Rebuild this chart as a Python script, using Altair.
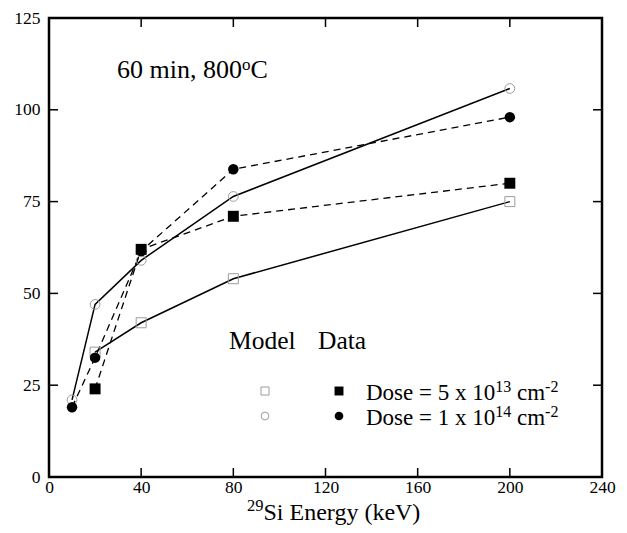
import altair as alt
import pandas as pd

# ---------------- data ----------------
model_sq_energy = [20, 40, 80, 200]
model_sq_value = [34, 42, 54, 75]
model_ci_energy = [10, 20, 40, 80, 200]
model_ci_value = [21, 47, 59, 76.4, 105.8]
data_sq_energy = [20, 40, 80, 200]
data_sq_value = [24, 62, 71, 80]
data_ci_energy = [10, 20, 40, 80, 200]
data_ci_value = [19, 32.5, 61.5, 83.8, 98]

x_ticks = [0, 40, 80, 120, 160, 200, 240]
y_ticks = [0, 25, 50, 75, 100, 125]

# ---------------- geometry ----------------
W, H = 553, 459
X_MAX, Y_MAX = 240, 125
PX_X = W / X_MAX
PX_Y = H / Y_MAX
FONT = "Liberation Serif"
PAD_LEFT, PAD_TOP = 41, 10
LEFT, TOP = 8 + PAD_LEFT, 8 + PAD_TOP  # page position of the plot area


def frame(xs, ys, series):
    return pd.DataFrame({"x": xs, "y": ys, "series": series})


lines_df = pd.concat([
    frame(model_sq_energy, model_sq_value, "model_sq"),
    frame(model_ci_energy, model_ci_value, "model_ci"),
    frame(data_sq_energy, data_sq_value, "data_sq"),
    frame(data_ci_energy, data_ci_value, "data_ci"),
], ignore_index=True)

# Times New Roman (Liberation Serif) advance widths, per 1000 em
TNR = {" ": 250, "(": 333, ")": 333, ",": 250, "-": 333, "=": 564, "C": 667,
       "D": 722, "E": 611, "S": 556, "V": 722, "M": 889, "a": 444, "c": 444,
       "d": 500, "e": 444, "g": 500, "i": 278, "k": 500, "l": 278, "m": 778,
       "n": 500, "o": 500, "r": 333, "s": 389, "t": 278, "x": 500, "y": 500}


def tw(s, size):
    return sum(TNR.get(c, 500) for c in s) / 1000.0 * size


def run(pieces, page_x, page_base):
    rows = []
    x = page_x - LEFT
    base = page_base - TOP
    for t, size, raise_px in pieces:
        lead = len(t) - len(t.lstrip())
        xr = x + tw(t[:lead], size)
        rows.append({"x": xr / PX_X, "y": (H - (base - raise_px)) / PX_Y,
                     "text": t.strip(), "size": size})
        x += tw(t, size)
    return rows


ann = []
ann += run([("60 min, 800", 26, 0), ("o", 17, 8), ("C", 26, 0)], 117, 78)
ann += run([("Model", 25.5, 0)], 229, 349)
ann += run([("Data", 25.5, 0)], 318, 349)
ann += run([("Dose = 5 x 10", 23, 0), ("13", 16, 8), (" cm", 23, 0), ("-2", 16, 8)], 366, 400)
ann += run([("Dose = 1 x 10", 23, 0), ("14", 16, 8), (" cm", 23, 0), ("-2", 16, 8)], 366, 425)
ann += run([("29", 16.5, 9), ("Si Energy (keV)", 24, 0)], 247, 519.5)
ann_df = pd.DataFrame(ann)


def leg(page_x, page_y, kind):
    return {"x": (page_x - LEFT) / PX_X, "y": (H - (page_y - TOP)) / PX_Y, "kind": kind}


legend_df = pd.DataFrame([
    leg(265, 391, "open_sq"), leg(265, 416, "open_ci"),
    leg(339, 391, "fill_sq"), leg(339, 416, "fill_ci"),
])

xscale = alt.Scale(domain=[0, X_MAX], nice=False, zero=False)
yscale = alt.Scale(domain=[0, Y_MAX], nice=False, zero=False)
X = alt.X("x:Q", scale=xscale,
          axis=alt.Axis(values=x_ticks, tickSize=0, domain=False, grid=False,
                        labelFont=FONT, labelFontSize=17.5, labelColor="black",
                        labelPadding=1, title=None, labelFlush=False))
Y = alt.Y("y:Q", scale=yscale,
          axis=alt.Axis(values=y_ticks, tickSize=0, domain=False, grid=False,
                        labelFont=FONT, labelFontSize=17.5, labelColor="black",
                        labelPadding=9, title=None, labelFlush=False))

base = alt.Chart(lines_df)

solid = base.transform_filter(
    alt.FieldOneOfPredicate(field="series", oneOf=["model_sq", "model_ci"])
).mark_line(color="black", strokeWidth=1.5).encode(x=X, y=Y, detail="series:N")

dashed = base.transform_filter(
    alt.FieldOneOfPredicate(field="series", oneOf=["data_sq", "data_ci"])
).mark_line(color="black", strokeWidth=1.3, strokeDash=[7, 5]).encode(x=X, y=Y, detail="series:N")

GREY = "#9c9c9c"
open_sq = base.transform_filter(alt.datum.series == "model_sq").mark_point(
    shape="square", filled=False, color=GREY, size=100, strokeWidth=1, opacity=1).encode(x=X, y=Y)
open_ci = base.transform_filter(alt.datum.series == "model_ci").mark_point(
    shape="circle", filled=False, color=GREY, size=95, strokeWidth=1, opacity=1).encode(x=X, y=Y)
fill_ci = base.transform_filter(alt.datum.series == "data_ci").mark_point(
    shape="circle", filled=True, color="black", size=110, opacity=1).encode(x=X, y=Y)
fill_sq = base.transform_filter(alt.datum.series == "data_sq").mark_point(
    shape="square", filled=True, color="black", size=120, opacity=1).encode(x=X, y=Y)

lbase = alt.Chart(legend_df)
l_open_sq = lbase.transform_filter(alt.datum.kind == "open_sq").mark_point(
    shape="square", filled=False, color=GREY, size=64, strokeWidth=1, opacity=1).encode(x=X, y=Y)
l_open_ci = lbase.transform_filter(alt.datum.kind == "open_ci").mark_point(
    shape="circle", filled=False, color=GREY, size=60, strokeWidth=1, opacity=1).encode(x=X, y=Y)
l_fill_sq = lbase.transform_filter(alt.datum.kind == "fill_sq").mark_point(
    shape="square", filled=True, color="black", size=80, opacity=1).encode(x=X, y=Y)
l_fill_ci = lbase.transform_filter(alt.datum.kind == "fill_ci").mark_point(
    shape="circle", filled=True, color="black", size=75, opacity=1).encode(x=X, y=Y)

text = alt.Chart(ann_df).mark_text(
    align="left", baseline="alphabetic", font=FONT, color="black"
).encode(x=X, y=Y, text="text:N", size=alt.Size("size:Q", scale=None, legend=None))

# inward ticks on all four sides
xt = alt.Chart(pd.DataFrame({"x": x_ticks}))
yt = alt.Chart(pd.DataFrame({"y": y_ticks}))
TL = 9
tick_b = xt.mark_rule(color="black", strokeWidth=1.5).encode(x=X, y=alt.value(H), y2=alt.value(H - TL))
tick_t = xt.mark_rule(color="black", strokeWidth=1.5).encode(x=X, y=alt.value(0), y2=alt.value(TL))
tick_l = yt.mark_rule(color="black", strokeWidth=1.5).encode(y=Y, x=alt.value(0), x2=alt.value(TL))
tick_r = yt.mark_rule(color="black", strokeWidth=1.5).encode(y=Y, x=alt.value(W), x2=alt.value(W - TL))

chart = alt.layer(
    tick_b, tick_t, tick_l, tick_r,
    solid, dashed, open_sq, open_ci, fill_ci, fill_sq,
    l_open_sq, l_open_ci, l_fill_sq, l_fill_ci, text,
).properties(
    width=W, height=H,
    autosize=alt.AutoSizeParams(type="none"),
    padding={"left": PAD_LEFT, "top": PAD_TOP, "right": 15, "bottom": 48},
    background="white",
).configure_view(stroke="black", strokeWidth=2.5)

chart.save("out.html", embed_options={"renderer": "svg", "actions": False})
